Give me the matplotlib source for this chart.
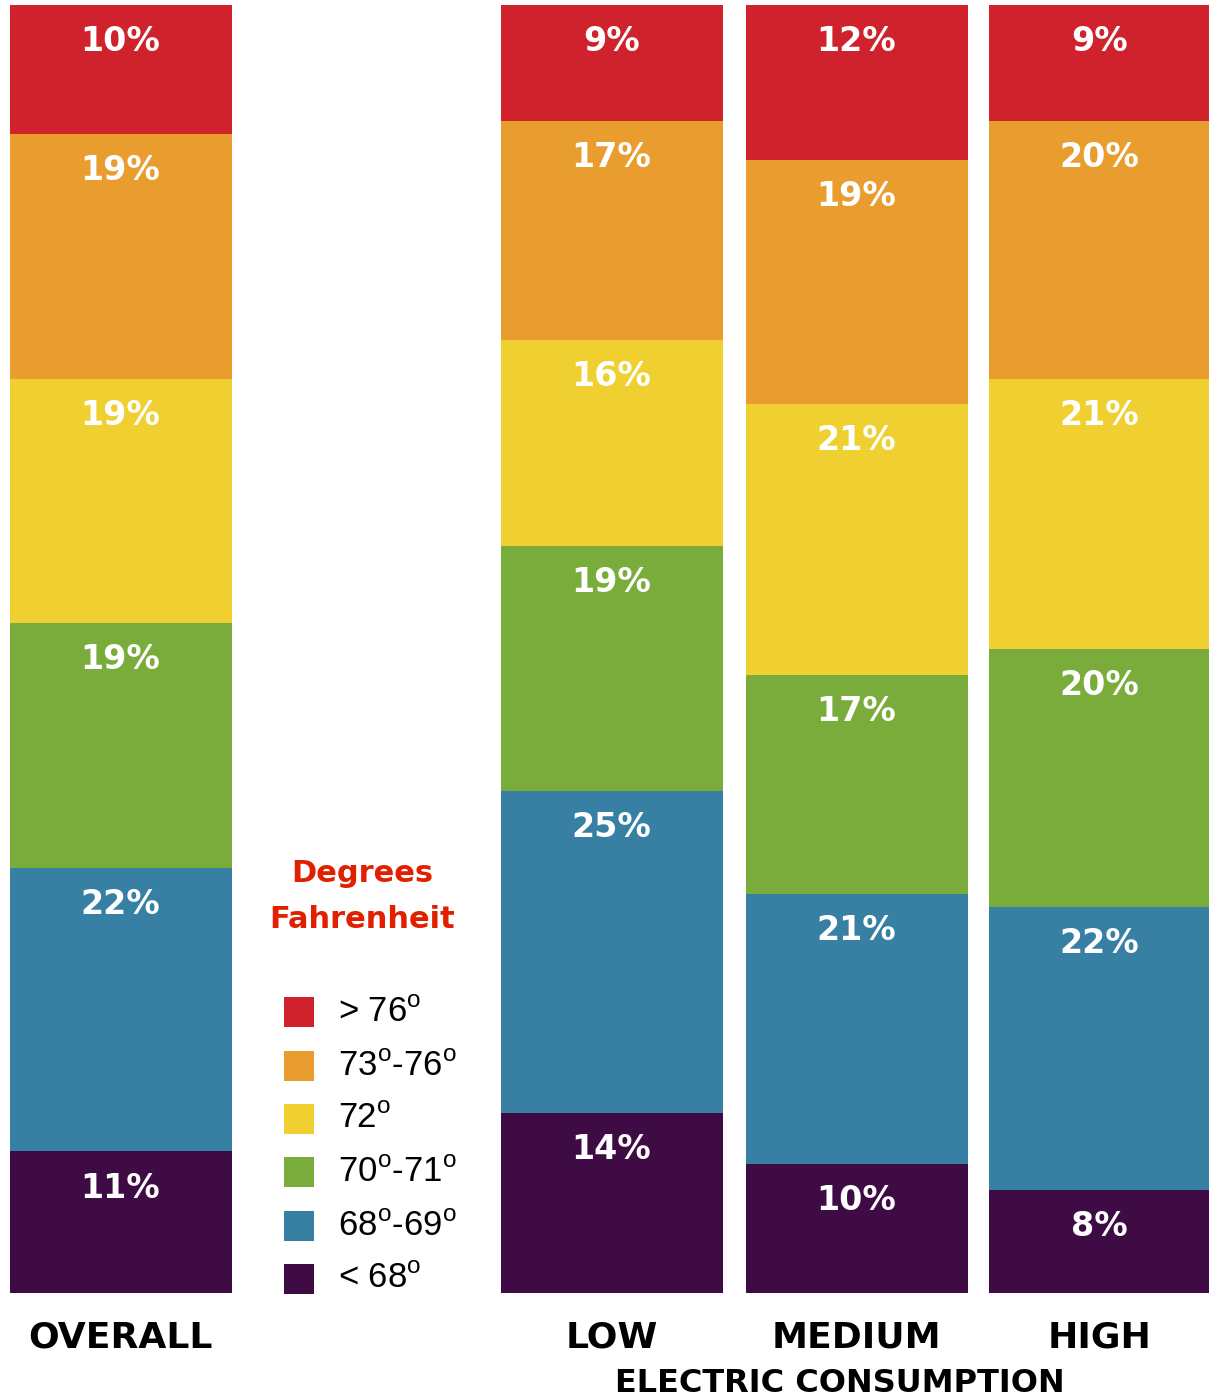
import matplotlib
matplotlib.use("Agg")
import matplotlib.pyplot as plt
import numpy as np

plt.rcParams["mathtext.fontset"] = "custom"
plt.rcParams["mathtext.rm"] = "Liberation Sans"

groups = ["OVERALL", "LOW", "MEDIUM", "HIGH"]
ranges = ["< 68$^{\\mathrm{o}}$", "68$^{\\mathrm{o}}$-69$^{\\mathrm{o}}$",
          "70$^{\\mathrm{o}}$-71$^{\\mathrm{o}}$", "72$^{\\mathrm{o}}$",
          "73$^{\\mathrm{o}}$-76$^{\\mathrm{o}}$", "> 76$^{\\mathrm{o}}$"]
colors = ["#3F0B45", "#3780A3", "#7AAC3B", "#F0D030", "#EA9D2F", "#D0222D"]

# shares per group, bottom (< 68) to top (> 76)
overall = [11, 22, 19, 19, 19, 10]
low = [14, 25, 19, 16, 17, 9]
medium = [10, 21, 17, 21, 19, 12]
high = [8, 22, 20, 21, 20, 9]
values = np.array([overall, low, medium, high])

xpos = [120.5, 611.5, 856.5, 1099.5]
width = 222

fig = plt.figure(figsize=(12.09, 13.99), dpi=100)
ax = fig.add_axes([0, 0, 1, 1])
ax.set_xlim(0, 1209)
px = 12.88  # pixels per percent
ax.set_ylim(-(1399 - 1293) / px, 100 + 5 / px)
ax.axis("off")

bottom = np.zeros(len(groups))
for j in range(len(ranges)):
    ax.bar(xpos, values[:, j], width=width, bottom=bottom, color=colors[j], linewidth=0)
    for i in range(len(groups)):
        top = bottom[i] + values[i, j]
        ax.text(xpos[i], top - 2.85, f"{values[i, j]}%", color="white",
                fontsize=24, fontweight="bold", ha="center", va="center")
    bottom += values[:, j]

# group labels
for i, g in enumerate(groups):
    ax.text(xpos[i], -(1337 - 1293) / px, g, fontsize=26, fontweight="heavy",
            ha="center", va="center", color="black")
ax.text(840, -(1383 - 1293) / px, "ELECTRIC CONSUMPTION", fontsize=23,
        fontweight="heavy", ha="center", va="center", color="black")

# legend
ax.text(362, (1293 - 873) / px, "Degrees", fontsize=22, fontweight="bold",
        color="#E02000", ha="center", va="center")
ax.text(362, (1293 - 920) / px, "Fahrenheit", fontsize=22, fontweight="bold",
        color="#E02000", ha="center", va="center")
leg_y = [1279, 1226, 1172, 1119, 1066, 1012]
for j in range(len(ranges)):
    yc = (1293 - leg_y[j]) / px
    ax.bar(299, 30 / px, width=30, bottom=yc - 15 / px, color=colors[j], linewidth=0)
    ax.text(338, yc, ranges[j], fontsize=25, color="black", ha="left", va="center",
            family="Liberation Sans")

fig.savefig("out.png", dpi=100)
